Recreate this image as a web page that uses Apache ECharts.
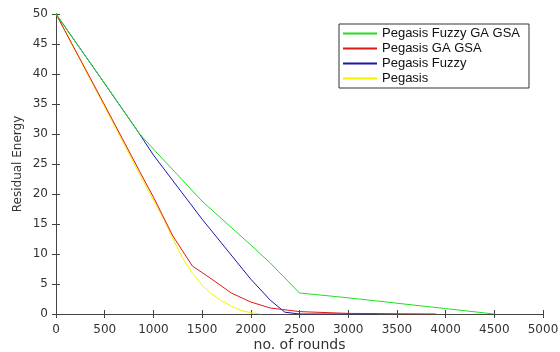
<!DOCTYPE html>
<html>
<head>
<meta charset="utf-8">
<script src="https://cdn.jsdelivr.net/npm/echarts@6/dist/echarts.min.js"></script>
<style>
  html, body { margin: 0; padding: 0; background: #fff; }
  #chart { width: 560px; height: 352px; }
</style>
</head>
<body>
<div id="chart"></div>
<script>
// values
const seriesNames = ['Pegasis Fuzzy GA GSA', 'Pegasis GA GSA', 'Pegasis Fuzzy', 'Pegasis'];

const greenRounds = [0, 500, 860, 1000, 1500, 2000, 2200, 2500, 3000, 3500, 4000, 4500];
const greenEnergy = [50, 38.4, 30, 27.5, 18.8, 11.5, 8.5, 3.5, 2.7, 1.8, 0.9, 0];

const redRounds = [0, 500, 900, 1000, 1200, 1300, 1400, 1600, 1800, 2000, 2200, 2500, 3000, 3900];
const redEnergy = [50, 34.8, 22.5, 19.5, 13, 10.5, 8, 5.8, 3.5, 2, 1, 0.4, 0.1, 0];

const blueRounds = [0, 500, 850, 1000, 1500, 2000, 2200, 2350, 2500, 3300];
const blueEnergy = [50, 38.4, 30.2, 26.5, 15.8, 5.8, 2.3, 0.3, 0, 0];

const yellowRounds = [0, 500, 900, 1000, 1100, 1200, 1300, 1400, 1500, 1600, 1700, 1800, 1900, 2000, 2100];
const yellowEnergy = [50, 34.5, 22, 19, 16, 12.5, 9.3, 6.8, 4.8, 3.3, 2.2, 1.3, 0.6, 0.2, 0];

const xTicks = [0, 500, 1000, 1500, 2000, 2500, 3000, 3500, 4000, 4500, 5000];
const yTicks = [0, 5, 10, 15, 20, 25, 30, 35, 40, 45, 50];

function pairs(xs, ys) {
  return xs.map((x, i) => [x, ys[i]]);
}

const colors = ['#22dd22', '#e01818', '#1818b0', '#f2f200'];
const datasets = [
  pairs(greenRounds, greenEnergy),
  pairs(redRounds, redEnergy),
  pairs(blueRounds, blueEnergy),
  pairs(yellowRounds, yellowEnergy)
];

const chart = echarts.init(document.getElementById('chart'));

const axisLine = { show: true, lineStyle: { color: '#444', width: 1 } };
const tickStyle = { show: true, inside: true, length: 4, lineStyle: { color: '#444' } };
const tickFont = { color: '#333', fontSize: 12, fontFamily: 'DejaVu Sans, sans-serif' };

const option = {
  animation: false,
  backgroundColor: '#fff',
  grid: { left: 56, right: 17, top: 14, bottom: 38, containLabel: false, outerBoundsMode: 'none' },
  legend: {
    orient: 'vertical',
    left: 339,
    top: 24,
    padding: [2, 9, 2, 4],
    backgroundColor: '#fff',
    borderColor: '#333',
    borderWidth: 1,
    borderRadius: 0,
    icon: 'rect',
    itemWidth: 34,
    itemHeight: 2,
    itemGap: 0,
    textStyle: { color: '#111', fontSize: 13, lineHeight: 15, fontFamily: 'Liberation Sans, Arial, sans-serif' },
    data: seriesNames
  },
  xAxis: [
    {
      type: 'value',
      min: xTicks[0],
      max: xTicks[xTicks.length - 1],
      interval: 500,
      name: 'no. of rounds',
      nameLocation: 'middle',
      nameGap: 24,
      nameMoveOverlap: false,
      nameTextStyle: { color: '#333', fontSize: 14, fontFamily: 'DejaVu Sans, sans-serif' },
      axisLine: axisLine,
      axisTick: tickStyle,
      axisLabel: Object.assign({ margin: 10, formatter: v => String(v) }, tickFont),
      splitLine: { show: false }
    },
    {
      type: 'value',
      position: 'top',
      min: xTicks[0],
      max: xTicks[xTicks.length - 1],
      interval: 500,
      axisLine: axisLine,
      axisTick: tickStyle,
      axisLabel: { show: false },
      splitLine: { show: false }
    }
  ],
  yAxis: [
    {
      type: 'value',
      min: yTicks[0],
      max: yTicks[yTicks.length - 1],
      interval: 5,
      name: 'Residual Energy',
      nameLocation: 'middle',
      nameGap: 32,
      nameMoveOverlap: false,
      nameTextStyle: { color: '#333', fontSize: 12, fontFamily: 'DejaVu Sans, sans-serif' },
      axisLine: axisLine,
      axisTick: tickStyle,
      axisLabel: Object.assign({ margin: 8 }, tickFont),
      splitLine: { show: false }
    },
    {
      type: 'value',
      position: 'right',
      min: yTicks[0],
      max: yTicks[yTicks.length - 1],
      interval: 5,
      axisLine: axisLine,
      axisTick: tickStyle,
      axisLabel: { show: false },
      splitLine: { show: false }
    }
  ],
  series: seriesNames.map((name, i) => ({
    name: name,
    type: 'line',
    data: datasets[i],
    symbol: 'none',
    smooth: false,
    color: colors[i],
    lineStyle: { width: 1, color: colors[i] },
    z: 10 - i
  }))
};

chart.setOption(option);
</script>
</body>
</html>
